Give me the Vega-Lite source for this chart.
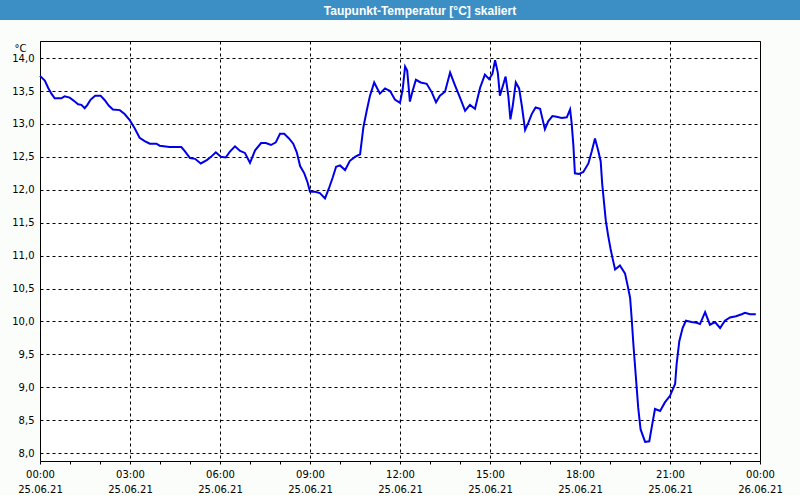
{
  "$schema": "https://vega.github.io/schema/vega-lite/v6.json",
  "background": "#fbfdfb",
  "padding": 0,
  "spacing": 20,
  "config": {"font": "DejaVu Sans"},
  "vconcat": [
    {
      "width": 800,
      "height": 20,
      "view": {"fill": "#3c8fc4", "stroke": null},
      "data": {"values": [{"label": "Taupunkt-Temperatur [°C] skaliert"}]},
      "mark": {"type": "text", "color": "white", "font": "Liberation Sans", "fontWeight": "bold", "fontSize": 12, "dx": 20, "dy": 1},
      "encoding": {"text": {"field": "label"}}
    },
    {
      "spacing": 0,
      "hconcat": [
        {
          "width": 11,
          "height": 420,
          "view": {"fill": null, "stroke": null},
          "data": {"values": [{"label": ""}]},
          "mark": {"type": "text"},
          "encoding": {"text": {"field": "label"}}
        },
        {
          "width": 720,
          "height": 420,
          "view": {"fill": "white", "stroke": "black", "strokeWidth": 1},
          "data": {"values": [
            {"h": 0.00, "v": 13.73}, {"h": 0.16, "v": 13.66}, {"h": 0.27, "v": 13.55}, {"h": 0.38, "v": 13.46},
            {"h": 0.49, "v": 13.39}, {"h": 0.71, "v": 13.39}, {"h": 0.82, "v": 13.42}, {"h": 0.99, "v": 13.40},
            {"h": 1.16, "v": 13.34}, {"h": 1.27, "v": 13.30}, {"h": 1.38, "v": 13.29}, {"h": 1.49, "v": 13.24},
            {"h": 1.58, "v": 13.29}, {"h": 1.69, "v": 13.37}, {"h": 1.84, "v": 13.43}, {"h": 2.02, "v": 13.43},
            {"h": 2.16, "v": 13.36}, {"h": 2.29, "v": 13.28}, {"h": 2.43, "v": 13.22}, {"h": 2.66, "v": 13.21},
            {"h": 2.82, "v": 13.15}, {"h": 2.99, "v": 13.06}, {"h": 3.16, "v": 12.93}, {"h": 3.32, "v": 12.79},
            {"h": 3.49, "v": 12.74}, {"h": 3.66, "v": 12.70}, {"h": 3.88, "v": 12.70}, {"h": 3.99, "v": 12.67},
            {"h": 4.32, "v": 12.65}, {"h": 4.71, "v": 12.65}, {"h": 4.82, "v": 12.59}, {"h": 5.00, "v": 12.48},
            {"h": 5.17, "v": 12.47}, {"h": 5.36, "v": 12.40}, {"h": 5.56, "v": 12.45}, {"h": 5.70, "v": 12.50},
            {"h": 5.86, "v": 12.57}, {"h": 6.03, "v": 12.50}, {"h": 6.19, "v": 12.49}, {"h": 6.33, "v": 12.58},
            {"h": 6.50, "v": 12.66}, {"h": 6.67, "v": 12.59}, {"h": 6.83, "v": 12.56}, {"h": 7.00, "v": 12.41},
            {"h": 7.17, "v": 12.60}, {"h": 7.37, "v": 12.71}, {"h": 7.53, "v": 12.71}, {"h": 7.70, "v": 12.68},
            {"h": 7.86, "v": 12.72}, {"h": 8.00, "v": 12.85}, {"h": 8.14, "v": 12.85}, {"h": 8.30, "v": 12.78},
            {"h": 8.44, "v": 12.70}, {"h": 8.56, "v": 12.57}, {"h": 8.67, "v": 12.36}, {"h": 8.81, "v": 12.25},
            {"h": 8.92, "v": 12.11}, {"h": 9.00, "v": 11.97}, {"h": 9.17, "v": 11.97}, {"h": 9.33, "v": 11.95},
            {"h": 9.50, "v": 11.87}, {"h": 9.63, "v": 12.02}, {"h": 9.76, "v": 12.19}, {"h": 9.87, "v": 12.35},
            {"h": 10.00, "v": 12.37}, {"h": 10.17, "v": 12.30}, {"h": 10.33, "v": 12.44}, {"h": 10.50, "v": 12.50},
            {"h": 10.67, "v": 12.54}, {"h": 10.78, "v": 12.95}, {"h": 10.89, "v": 13.20}, {"h": 11.00, "v": 13.43},
            {"h": 11.14, "v": 13.63}, {"h": 11.33, "v": 13.46}, {"h": 11.50, "v": 13.54}, {"h": 11.67, "v": 13.50},
            {"h": 11.83, "v": 13.37}, {"h": 12.00, "v": 13.32}, {"h": 12.09, "v": 13.53}, {"h": 12.17, "v": 13.87},
            {"h": 12.24, "v": 13.81}, {"h": 12.33, "v": 13.34}, {"h": 12.42, "v": 13.50}, {"h": 12.53, "v": 13.67},
            {"h": 12.69, "v": 13.63}, {"h": 12.89, "v": 13.61}, {"h": 13.06, "v": 13.48}, {"h": 13.20, "v": 13.33},
            {"h": 13.33, "v": 13.43}, {"h": 13.50, "v": 13.49}, {"h": 13.67, "v": 13.78}, {"h": 13.83, "v": 13.59},
            {"h": 14.00, "v": 13.40}, {"h": 14.17, "v": 13.20}, {"h": 14.33, "v": 13.29}, {"h": 14.50, "v": 13.23},
            {"h": 14.67, "v": 13.55}, {"h": 14.83, "v": 13.75}, {"h": 14.97, "v": 13.68}, {"h": 15.08, "v": 13.76},
            {"h": 15.17, "v": 13.97}, {"h": 15.26, "v": 13.78}, {"h": 15.33, "v": 13.43}, {"h": 15.41, "v": 13.55},
            {"h": 15.52, "v": 13.72}, {"h": 15.61, "v": 13.43}, {"h": 15.68, "v": 13.07}, {"h": 15.76, "v": 13.28},
            {"h": 15.86, "v": 13.63}, {"h": 15.97, "v": 13.54}, {"h": 16.06, "v": 13.28}, {"h": 16.17, "v": 12.91},
            {"h": 16.28, "v": 13.02}, {"h": 16.39, "v": 13.15}, {"h": 16.52, "v": 13.25}, {"h": 16.67, "v": 13.23},
            {"h": 16.83, "v": 12.92}, {"h": 16.94, "v": 13.04}, {"h": 17.08, "v": 13.12}, {"h": 17.22, "v": 13.11},
            {"h": 17.39, "v": 13.09}, {"h": 17.56, "v": 13.10}, {"h": 17.67, "v": 13.22}, {"h": 17.72, "v": 13.02},
            {"h": 17.78, "v": 12.67}, {"h": 17.83, "v": 12.25}, {"h": 17.97, "v": 12.24}, {"h": 18.11, "v": 12.27},
            {"h": 18.28, "v": 12.40}, {"h": 18.39, "v": 12.58}, {"h": 18.50, "v": 12.78}, {"h": 18.61, "v": 12.59},
            {"h": 18.69, "v": 12.43}, {"h": 18.74, "v": 12.09}, {"h": 18.80, "v": 11.81}, {"h": 18.86, "v": 11.53},
            {"h": 18.94, "v": 11.30}, {"h": 19.02, "v": 11.10}, {"h": 19.08, "v": 10.97}, {"h": 19.17, "v": 10.79},
            {"h": 19.33, "v": 10.85}, {"h": 19.50, "v": 10.73}, {"h": 19.59, "v": 10.54}, {"h": 19.67, "v": 10.36},
            {"h": 19.72, "v": 10.06}, {"h": 19.78, "v": 9.65}, {"h": 19.83, "v": 9.35}, {"h": 19.89, "v": 8.99},
            {"h": 19.94, "v": 8.69}, {"h": 20.02, "v": 8.36}, {"h": 20.17, "v": 8.17}, {"h": 20.31, "v": 8.18},
            {"h": 20.39, "v": 8.39}, {"h": 20.50, "v": 8.67}, {"h": 20.67, "v": 8.64}, {"h": 20.83, "v": 8.77},
            {"h": 21.00, "v": 8.87}, {"h": 21.17, "v": 9.05}, {"h": 21.22, "v": 9.35}, {"h": 21.31, "v": 9.70},
            {"h": 21.42, "v": 9.90}, {"h": 21.53, "v": 10.01}, {"h": 21.72, "v": 9.99}, {"h": 21.89, "v": 9.98},
            {"h": 22.00, "v": 9.96}, {"h": 22.17, "v": 10.14}, {"h": 22.33, "v": 9.95}, {"h": 22.50, "v": 9.99},
            {"h": 22.67, "v": 9.90}, {"h": 22.83, "v": 10.01}, {"h": 23.00, "v": 10.06}, {"h": 23.20, "v": 10.08},
            {"h": 23.39, "v": 10.11}, {"h": 23.50, "v": 10.13}, {"h": 23.67, "v": 10.11}, {"h": 23.86, "v": 10.11}
          ]},
          "mark": {"type": "line", "color": "#0000e8", "strokeWidth": 2, "interpolate": "linear"},
          "encoding": {
            "x": {
              "field": "h", "type": "quantitative",
              "scale": {"domain": [0, 24], "nice": false, "zero": false},
              "axis": {
                "title": null,
                "domain": false,
                "values": [0, 1, 2, 3, 4, 5, 6, 7, 8, 9, 10, 11, 12, 13, 14, 15, 16, 17, 18, 19, 20, 21, 22, 23, 24],
                "ticks": true, "tickSize": 3, "tickColor": "black", "tickWidth": 1,
                "grid": true, "gridColor": "black", "gridDash": [3, 3], "gridWidth": 1,
                "gridOpacity": {"condition": {"test": "datum.value % 3 === 0", "value": 1}, "value": 0},
                "labelExpr": "datum.value % 3 !== 0 ? '' : (datum.value === 24 ? ['00:00', '26.06.21'] : [(datum.value < 10 ? '0' : '') + datum.value + ':00', '25.06.21'])",
                "labelOverlap": false, "labelFlush": false, "labelBound": false,
                "labelFont": "DejaVu Sans", "labelFontSize": 10, "labelColor": "black",
                "labelLineHeight": 15, "labelPadding": 5, "labelBaseline": "top"
              }
            },
            "y": {
              "field": "v", "type": "quantitative",
              "scale": {"domain": [7.88, 14.26], "nice": false, "zero": false},
              "axis": {
                "title": "°C", "titleAngle": 0, "titleAlign": "right", "titleBaseline": "top",
                "titleX": -14, "titleY": 2, "titleFont": "DejaVu Sans", "titleFontSize": 10, "titleFontWeight": "normal", "titleColor": "black",
                "domain": false, "ticks": false,
                "values": [8, 8.5, 9, 9.5, 10, 10.5, 11, 11.5, 12, 12.5, 13, 13.5, 14],
                "grid": true, "gridColor": "black", "gridDash": [3, 3], "gridWidth": 1, "gridOpacity": 1,
                "labelExpr": "replace(format(datum.value, '.1f'), '.', ',')",
                "labelFont": "DejaVu Sans", "labelFontSize": 10, "labelColor": "black", "labelPadding": 6
              }
            }
          }
        }
      ]
    }
  ]
}
